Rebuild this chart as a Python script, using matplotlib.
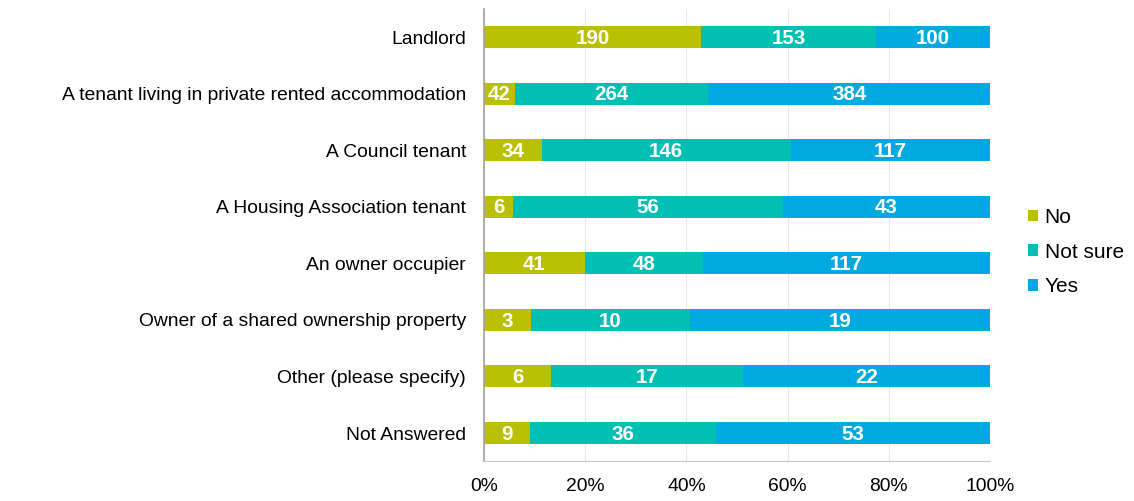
import matplotlib.pyplot as plt
import numpy as np

categories = ["Landlord", "A tenant living in private rented accommodation", "A Council tenant",
              "A Housing Association tenant", "An owner occupier",
              "Owner of a shared ownership property", "Other (please specify)", "Not Answered"]
no = [190, 42, 34, 6, 41, 3, 6, 9]
not_sure = [153, 264, 146, 56, 48, 10, 17, 36]
yes = [100, 384, 117, 43, 117, 19, 22, 53]
series = ["No", "Not sure", "Yes"]
colors = ["#B8C000", "#00BFB3", "#00A9E0"]

plt.rcParams['font.family'] = ['Liberation Sans', 'DejaVu Sans']

fig = plt.figure(figsize=(11.34, 5.01), dpi=100)
ax = fig.add_axes([0.4268, 0.0792, 0.873 - 0.4268, 0.9034])

data = np.array([no, not_sure, yes], dtype=float)
totals = data.sum(axis=0)
pct = data / totals
y = np.arange(len(categories))
left = np.zeros(len(categories))
for i in range(3):
    ax.barh(y, pct[i], left=left, height=0.39, color=colors[i], label=series[i], zorder=2)
    for j in range(len(categories)):
        ax.text(left[j] + pct[i][j] / 2, y[j] + 0.02, str(int(data[i][j])), ha='center', va='center',
                color='white', fontsize=14.8, fontweight='bold', zorder=3)
    left += pct[i]

ax.set_ylim(len(categories) - 0.5, -0.5)
ax.set_xlim(0, 1)
ax.set_yticks(y)
ax.set_yticklabels(categories, fontsize=13.85)
ax.set_xticks(np.linspace(0, 1, 6))
ax.set_xticklabels([f"{int(v*100)}%" for v in np.linspace(0, 1, 6)], fontsize=13.85)
ax.tick_params(axis='y', length=0, pad=13)
ax.tick_params(axis='x', length=0, pad=12)
ax.grid(axis='x', color='#E8E8E8', linewidth=0.8, zorder=0)
for s in ['top', 'right']:
    ax.spines[s].set_visible(False)
ax.spines['left'].set_color('#A0A0A0')
ax.spines['bottom'].set_color('#C8C8C8')
ax.spines['left'].set_linewidth(1.2)

fig.legend(loc='center left', bbox_to_anchor=(0.89, 0.497), frameon=False, fontsize=15,
           handlelength=0.5, handleheight=0.5, handletextpad=0.3, labelspacing=0.75)

fig.savefig("out.png", dpi=100)
